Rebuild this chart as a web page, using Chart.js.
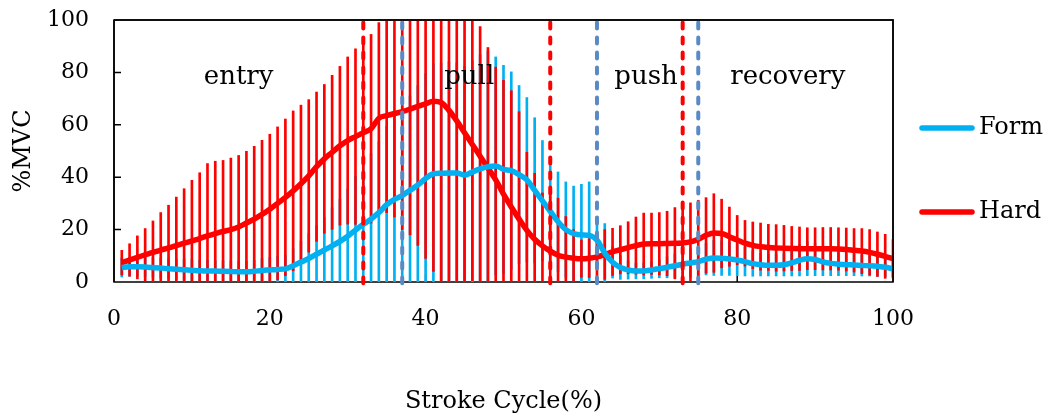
<!DOCTYPE html>
<html>
<head>
<meta charset="utf-8">
<script src="https://cdn.jsdelivr.net/npm/chart.js@4.4.1/dist/chart.umd.min.js"></script>
<style>
  html, body { margin: 0; padding: 0; background: #fff; }
</style>
</head>
<body>
<canvas id="emgChart" width="1048" height="417"></canvas>
<script>
// stroke cycle positions 1..100 (%)
const cycle = [];
for (let i = 1; i <= 100; i++) cycle.push(i);

// Hard: mean %MVC and SD
const hardMean = [7.4, 8.4, 9.4, 10.4, 11.3, 12.2, 13.0, 13.9, 14.8, 15.7,
  16.6, 17.6, 18.5, 19.3, 20.0, 21.0, 22.5, 24.0, 25.8, 27.8,
  30.0, 32.3, 34.8, 37.5, 40.5, 44.0, 47.0, 49.5, 52.0, 54.0,
  55.5, 57.0, 58.5, 62.5, 63.5, 64.3, 65.0, 66.0, 67.0, 68.0,
  69.0, 68.5, 65.5, 61.5, 57.0, 52.5, 48.0, 43.5, 39.0, 33.5,
  28.6, 24.0, 19.7, 16.3, 13.8, 11.8, 10.2, 9.5, 9.1, 8.9,
  9.1, 9.6, 10.5, 11.5, 12.3, 13.1, 13.9, 14.5, 14.6, 14.6,
  14.7, 14.8, 14.9, 15.3, 16.3, 17.8, 18.7, 18.5, 17.3, 16.0,
  14.8, 14.0, 13.5, 13.2, 13.0, 12.9, 12.8, 12.7, 12.7, 12.7,
  12.7, 12.7, 12.6, 12.4, 12.1, 11.8, 11.3, 10.6, 9.8, 8.9];
const hardSD = [4.7, 6.2, 8.2, 10.0, 12.0, 14.3, 16.3, 18.5, 20.8, 23.1,
  25.1, 27.6, 27.6, 27.1, 27.3, 27.3, 27.4, 27.8, 28.3, 28.6,
  29.2, 29.9, 30.5, 30.0, 29.1, 28.5, 28.4, 29.4, 30.3, 31.9,
  33.5, 35.0, 36.0, 36.5, 37.0, 39.5, 45.0, 48.0, 53.0, 59.0,
  65.0, 69.0, 66.0, 62.0, 57.0, 52.0, 49.5, 46.0, 43.0, 43.5,
  44.4, 41.0, 29.8, 25.2, 20.2, 21.2, 21.8, 15.5, 10.9, 7.1,
  7.4, 8.4, 9.5, 9.0, 9.2, 9.9, 10.9, 11.8, 11.7, 11.9,
  12.3, 13.6, 14.4, 14.9, 14.9, 14.4, 15.0, 13.1, 11.3, 9.4,
  8.7, 8.9, 9.0, 8.8, 8.9, 8.7, 8.4, 8.3, 8.0, 8.0,
  8.1, 8.1, 8.1, 8.2, 8.3, 8.6, 8.7, 8.5, 8.4, 7.3];

// Form: mean %MVC and SD
const formMean = [5.5, 5.8, 5.8, 5.7, 5.5, 5.3, 5.1, 4.9, 4.7, 4.5,
  4.3, 4.2, 4.2, 4.1, 4.0, 3.9, 3.9, 4.1, 4.4, 4.6,
  4.8, 5.0, 6.2, 7.6, 9.0, 10.6, 12.2, 13.8, 15.5, 17.5,
  19.8, 22.0, 24.0, 26.5, 29.5, 31.5, 33.0, 35.0, 37.0, 39.5,
  41.3, 41.5, 41.6, 41.6, 40.8, 42.0, 43.2, 44.0, 44.3, 43.0,
  42.5, 41.0, 39.0, 35.0, 31.0, 27.0, 23.0, 20.0, 18.5, 18.0,
  17.8, 16.0, 11.0, 7.5, 5.5, 4.6, 4.2, 4.2, 4.6, 5.1,
  5.6, 6.2, 6.8, 7.3, 7.8, 8.7, 9.2, 9.1, 8.8, 8.4,
  7.8, 7.0, 6.6, 6.4, 6.4, 6.6, 7.3, 8.3, 8.9, 8.6,
  7.7, 7.1, 6.8, 6.6, 6.5, 6.3, 6.2, 6.0, 5.6, 5.1];
const formSD = [3.6, 3.6, 3.6, 3.6, 3.7, 3.8, 3.9, 4.0, 4.0, 4.0,
  4.0, 4.0, 4.0, 4.0, 4.0, 4.0, 4.0, 4.2, 4.5, 4.8,
  5.0, 5.3, 6.5, 8.0, 9.5, 11.0, 12.5, 14.5, 16.0, 18.0,
  20.5, 22.5, 25.0, 27.0, 30.0, 32.0, 34.0, 36.0, 38.0, 40.0,
  42.0, 42.0, 42.5, 42.0, 41.5, 42.5, 43.5, 44.0, 41.6, 39.7,
  37.7, 34.0, 31.4, 27.7, 23.0, 20.7, 19.0, 18.2, 18.1, 19.3,
  20.4, 9.0, 11.3, 6.0, 4.5, 3.5, 3.0, 3.0, 3.2, 3.5,
  4.0, 4.5, 5.0, 5.3, 5.5, 6.0, 6.7, 6.6, 6.3, 6.0,
  5.5, 4.8, 4.3, 4.1, 4.1, 4.3, 5.0, 6.0, 6.5, 6.2,
  5.3, 4.7, 4.4, 4.2, 4.1, 4.0, 3.9, 3.8, 3.5, 3.2];

// phase boundaries (% of stroke cycle)
const hardPhases = [32, 56, 73];
const formPhases = [37, 62, 75];
const phaseNames = ['entry', 'pull', 'push', 'recovery'];
const phaseLabelX = [16, 45.6, 68.3, 86.5];
const phaseLabelY = 75.5;

const xTicks = [0, 20, 40, 60, 80, 100];
const yTicks = [0, 20, 40, 60, 80, 100];

const RED = '#ff0000';
const BLUE = '#00b0f0';
const STEEL = '#5a8ac6';
const FONT = '"DejaVu Serif", serif';

function errBars(mean, sd) {
  return cycle.map((c, i) => ({ x: c, y: [mean[i] - sd[i], mean[i] + sd[i]] }));
}
function meanLine(mean) {
  return cycle.map((c, i) => ({ x: c, y: mean[i] }));
}
function phaseLine(pos, color) {
  return {
    type: 'line',
    data: [{ x: pos, y: 99 }, { x: pos, y: -0.5 }],
    borderColor: color,
    borderWidth: 4,
    borderDash: [6, 9],
    borderCapStyle: 'round',
    pointRadius: 0,
    clip: false,
    order: 0
  };
}

const datasets = [
  {
    type: 'line', label: 'Form', data: meanLine(formMean),
    borderColor: BLUE, borderWidth: 5.5, pointRadius: 0,
    cubicInterpolationMode: 'monotone', order: 1
  },
  {
    type: 'line', label: 'Hard', data: meanLine(hardMean),
    borderColor: RED, borderWidth: 5.5, pointRadius: 0,
    cubicInterpolationMode: 'monotone', order: 1
  },
  {
    type: 'bar', label: 'Hard SD', data: errBars(hardMean, hardSD),
    backgroundColor: RED, barThickness: 2, grouped: false, clip: 0, order: 3
  },
  {
    type: 'bar', label: 'Form SD', data: errBars(formMean, formSD),
    backgroundColor: BLUE, barThickness: 2, grouped: false, clip: 0, order: 4
  }
];
hardPhases.forEach(p => datasets.push(phaseLine(p, RED)));
formPhases.forEach(p => datasets.push(phaseLine(p, STEEL)));

const decor = {
  id: 'decor',
  beforeDatasetsDraw(chart) {
    // frame + inner tick marks (under the marks)
    const { ctx, chartArea: a, scales: { x, y } } = chart;
    ctx.save();
    ctx.strokeStyle = '#000';
    ctx.lineWidth = 1.5;
    ctx.strokeRect(a.left, a.top, a.right - a.left, a.bottom - a.top);
    ctx.beginPath();
    xTicks.slice(1, -1).forEach(v => {
      const px = x.getPixelForValue(v);
      ctx.moveTo(px, a.bottom);
      ctx.lineTo(px, a.bottom - 7);
    });
    yTicks.slice(1, -1).forEach(v => {
      const py = y.getPixelForValue(v);
      ctx.moveTo(a.left, py);
      ctx.lineTo(a.left + 7, py);
    });
    ctx.stroke();
    ctx.restore();
  },
  afterDatasetsDraw(chart) {
    const { ctx, chartArea: a, scales: { x, y } } = chart;
    ctx.save();
    // frame edges over the clipped error bars
    ctx.strokeStyle = '#000';
    ctx.lineWidth = 1.5;
    ctx.beginPath();
    ctx.moveTo(a.left, a.top);
    ctx.lineTo(a.right, a.top);
    ctx.lineTo(a.right, a.bottom);
    ctx.moveTo(a.left, a.top);
    ctx.lineTo(a.left, a.bottom);
    ctx.stroke();

    // phase names
    ctx.fillStyle = '#000';
    ctx.font = '26px ' + FONT;
    ctx.textAlign = 'center';
    ctx.textBaseline = 'alphabetic';
    phaseNames.forEach((n, i) => {
      ctx.fillText(n, x.getPixelForValue(phaseLabelX[i]), y.getPixelForValue(phaseLabelY));
    });

    // legend
    const items = [['Form', BLUE, 128], ['Hard', RED, 212]];
    ctx.font = '24px ' + FONT;
    ctx.textAlign = 'left';
    ctx.textBaseline = 'middle';
    ctx.lineCap = 'round';
    items.forEach(([name, color, ly]) => {
      ctx.strokeStyle = color;
      ctx.lineWidth = 5.5;
      ctx.beginPath();
      ctx.moveTo(a.right + 29, ly);
      ctx.lineTo(a.right + 79, ly);
      ctx.stroke();
      ctx.fillText(name, a.right + 86, ly);
    });
    ctx.restore();
  }
};

new Chart(document.getElementById('emgChart'), {
  type: 'bar',
  data: { datasets: datasets },
  options: {
    responsive: false,
    animation: false,
    layout: { padding: { top: 20, right: 155, left: 0, bottom: 0 } },
    plugins: {
      legend: { display: false },
      tooltip: { enabled: false }
    },
    scales: {
      x: {
        type: 'linear', min: 0, max: 100, offset: false,
        afterFit(s) { s.height = 135; s.paddingLeft = 0; s.paddingRight = 0; },
        afterBuildTicks(s) { s.ticks = xTicks.map(v => ({ value: v })); },
        grid: { display: false, drawTicks: false },
        border: { display: false },
        ticks: { color: '#000', padding: 24, font: { family: FONT, size: 22 } },
        title: {
          display: true, text: 'Stroke Cycle(%)', color: '#000',
          padding: { top: 4, bottom: 1 }, font: { family: FONT, size: 24 }
        }
      },
      y: {
        min: 0, max: 100,
        afterFit(s) { s.width = 114; s.paddingTop = 0; s.paddingBottom = 0; },
        afterBuildTicks(s) { s.ticks = yTicks.map(v => ({ value: v })); },
        grid: { display: false, drawTicks: false },
        border: { display: false },
        ticks: { color: '#000', padding: 25, font: { family: FONT, size: 22 } },
        title: {
          display: true, text: '%MVC', color: '#000',
          padding: { top: 9, bottom: 0 }, font: { family: FONT, size: 24 }
        }
      }
    }
  },
  plugins: [decor]
});
</script>
</body>
</html>
